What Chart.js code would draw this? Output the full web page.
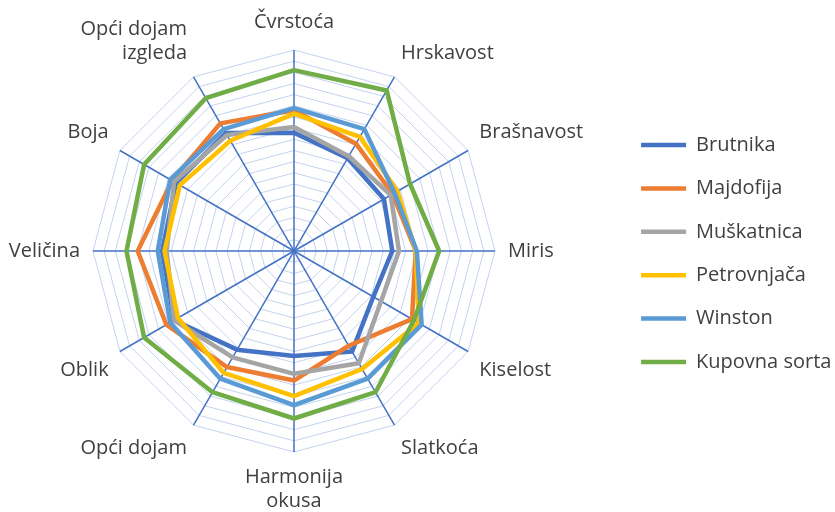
<!DOCTYPE html>
<html>
<head>
<meta charset="utf-8">
<script src="https://cdn.jsdelivr.net/npm/chart.js@4/dist/chart.umd.min.js"></script>
<style>
  html, body { margin: 0; padding: 0; background: #fff; }
  #wrap { width: 835px; height: 512px; }
</style>
</head>
<body>
<div id="wrap"><canvas id="radarChart"></canvas></div>
<script>
// kategorije (osi radara)
const kategorije = ['Čvrstoća', 'Hrskavost', 'Brašnavost', 'Miris', 'Kiselost', 'Slatkoća',
    ['Harmonija', 'okusa'], 'Opći dojam', 'Oblik', 'Veličina', 'Boja', ['Opći dojam', 'izgleda']];

// ocjene po sortama (procijenjeno sa slike)
const brutnika    = [5.3, 4.8, 4.65, 4.4, 4.1, 5.2, 4.7, 5.1, 6.2, 5.9, 6.1, 6.1];
const majdofija   = [6.3, 5.55, 5.1, 5.45, 6.1, 4.9, 5.8, 6.0, 6.6, 7.0, 6.3, 6.6];
const muskatnica  = [5.55, 4.9, 5.0, 4.7, 4.5, 5.8, 5.5, 5.5, 6.2, 5.7, 6.2, 6.0];
const petrovnjaca = [6.15, 5.9, 5.35, 5.45, 6.45, 6.1, 6.5, 6.3, 6.0, 5.8, 5.9, 5.7];
const winston     = [6.4, 6.3, 5.2, 5.5, 6.6, 6.6, 6.9, 6.6, 6.4, 6.1, 6.4, 6.3];
const kupovna     = [8.1, 8.3, 6.0, 6.5, 6.2, 7.3, 7.5, 7.3, 7.75, 7.5, 7.75, 7.9];

const sorte = ['Brutnika', 'Majdofija', 'Muškatnica', 'Petrovnjača', 'Winston', 'Kupovna sorta'];
const boje  = ['#4472C4', '#ED7D31', '#A5A5A5', '#FFC000', '#5B9BD5', '#70AD47'];

// skala
const skalaMin = 0;
const skalaMax = 9;
const skalaKorak = 0.5;

document.addEventListener('DOMContentLoaded', () => {
    const serije = [brutnika, majdofija, muskatnica, petrovnjaca, winston, kupovna];

    // kasnije serije crtaju se iznad (kao u Excelu)
    const datasets = serije.map((vrijednosti, i) => ({
        label: sorte[i],
        data: vrijednosti,
        borderColor: boje[i],
        backgroundColor: boje[i],
        borderWidth: 4.5,
        borderJoinStyle: 'round',
        borderCapStyle: 'round',
        pointRadius: 0,
        pointHoverRadius: 0,
        fill: false,
        order: serije.length - i
    }));

    const font = { family: '"Open Sans", sans-serif', size: 20, lineHeight: 1.2 };

    // okvir radara: pomaknut ulijevo i malo viši od prostora, da oznake
    // dolje izađu do ruba kao u originalu
    const pomakX = -14;
    const visinaOkvira = 524;

    new Chart(document.getElementById('radarChart'), {
        type: 'radar',
        data: { labels: kategorije, datasets },
        options: {
            responsive: true,
            maintainAspectRatio: false,
            animation: false,
            layout: { padding: { top: 0, right: -6.4, bottom: 5, left: 0 } },
            plugins: {
                tooltip: { enabled: false },
                legend: {
                    position: 'right',
                    reverse: true,
                    labels: {
                        usePointStyle: true,
                        pointStyle: 'line',
                        pointStyleWidth: 45,
                        padding: 23.4,
                        color: '#404040',
                        font: font
                    }
                }
            },
            scales: {
                r: {
                    min: skalaMin,
                    max: skalaMax,
                    ticks: { stepSize: skalaKorak, display: false },
                    grid: { color: '#c3d3ee', lineWidth: 1 },
                    angleLines: { color: '#4472C4', lineWidth: 1.5 },
                    pointLabels: {
                        color: '#404040',
                        font: font,
                        padding: (ctx) => ctx.index === 0 ? 16 : 13
                    },
                    afterSetDimensions: (scale) => {
                        scale.left += pomakX;
                        scale.right += pomakX;
                        scale.xCenter += pomakX;
                        scale.top = 0;
                        scale.bottom = visinaOkvira;
                        scale.height = visinaOkvira;
                        scale.yCenter = visinaOkvira / 2;
                        scale.drawingArea = Math.floor(Math.min(scale.width, visinaOkvira) / 2);
                    }
                }
            }
        }
    });
});
</script>
</body>
</html>
